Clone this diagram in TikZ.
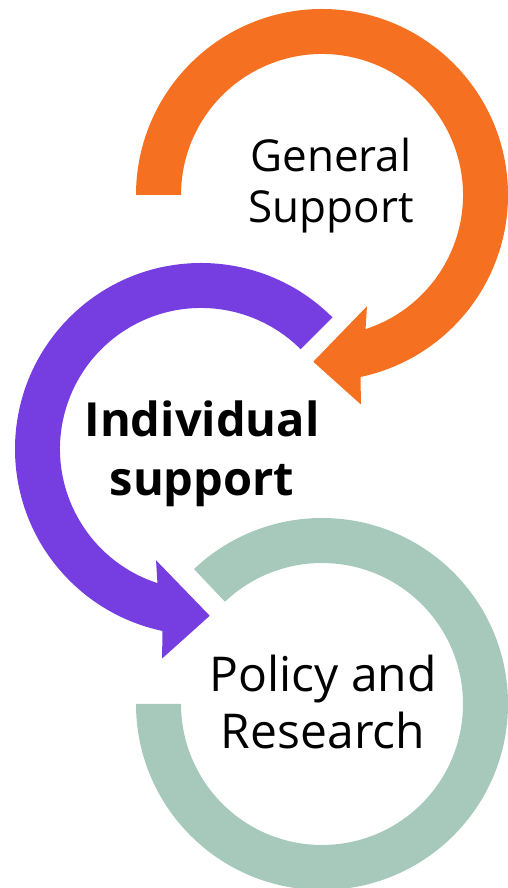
\documentclass[tikz,border=0pt]{standalone}
\usepackage{fontspec}
\setmainfont{Open Sans}
\definecolor{genorange}{RGB}{245,112,32}
\definecolor{indpurple}{RGB}{118,61,224}
\definecolor{polgreen}{RGB}{166,201,187}

\begin{document}
\begin{tikzpicture}[x=1pt,y=1pt,
  ringtext/.style={align=center,inner sep=0pt,text=black}]
\useasboundingbox (0,0) rectangle (507,888);
%\draw[step=50,gray,very thin] (0,0) grid (507,888);
% orange ring, general support
\begin{scope}[shift={(322,693)}]
\fill[genorange] (180:186) arc[start angle=180,end angle=-78,radius=186] -- (-79.5:213) -- (-93:167) -- (-68:120) -- (-72:141) arc[start angle=-72,end angle=180,radius=141] -- cycle;
\end{scope}
% purple ring, individual support
\begin{scope}[shift={(201,439)}]
\fill[indpurple] (45:186) arc[start angle=45,end angle=258,radius=186] -- (259.5:213) -- (273:167) -- (248:120) -- (252:141) arc[start angle=252,end angle=45,radius=141] -- cycle;
\end{scope}
% green ring, policy and research
\begin{scope}[shift={(322,184)}]
\fill[polgreen] (180:186) arc[start angle=180,end angle=493.5,radius=186] -- (133.5:141) arc[start angle=133.5,end angle=-180,radius=141] -- cycle;
\end{scope}
\node[ringtext,font={\fontsize{44}{51}\selectfont}] (general) at (331,702) {General\\Support};
\node[ringtext,font={\bfseries\fontsize{47}{59}\selectfont}] (individual) at (202,434) {Individual\\support};
\node[ringtext,font={\fontsize{48}{57}\selectfont}] (policy) at (323,186) {Policy and\\Research};
\end{tikzpicture}
\end{document}
